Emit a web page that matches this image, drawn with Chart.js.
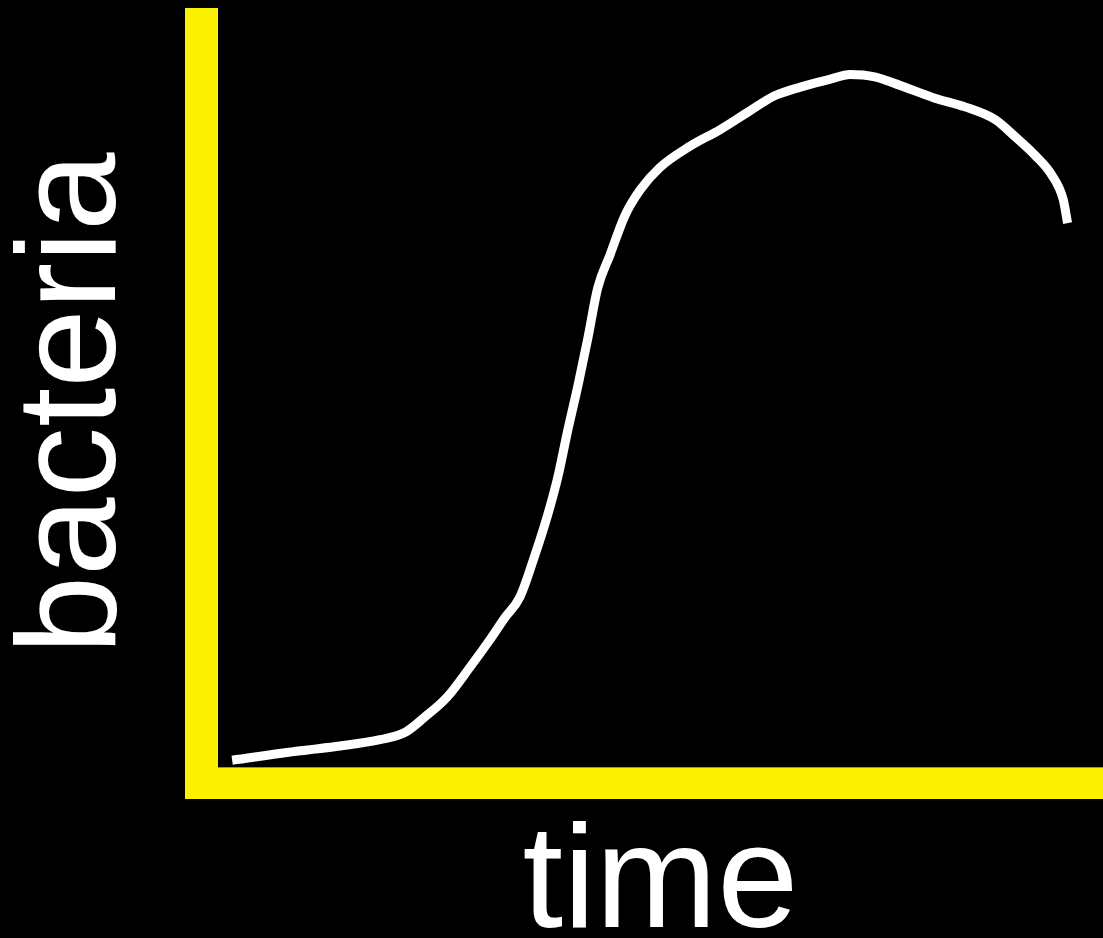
<!DOCTYPE html>
<html lang="en">

<head>
  <meta charset="UTF-8">
  <meta name="viewport" content="width=device-width, initial-scale=1.0">
  <script src="https://cdn.jsdelivr.net/npm/chart.js@4"></script>
  <title>Bacteria growth</title>
  <style>
    html, body { margin: 0; padding: 0; background: #000; }
    .container { width: 1103px; height: 938px; }
  </style>
</head>

<body>
  <div class="container">
    <canvas id="growthChart"></canvas>
  </div>

  <script>
    // values (x: time, y: bacteria, arbitrary units)
    var timeValues = [1.6, 9.3, 13.8, 18.3, 21.1, 23.4, 25.9, 28.5, 30.7, 32.4, 34.1, 35.8, 37.3, 38.4,
      39.5, 40.7, 41.8, 42.9, 44.3, 46.0, 47.7, 49.9, 53.3, 56.7, 60.1, 62.9, 65.8, 69.2, 71.4,
      74.2, 77.1, 81.0, 84.4, 87.8, 90.1, 92.3, 94.2, 95.5, 96.0];
    var bacteriaValues = [0.9, 2.1, 2.7, 3.5, 4.4, 6.4, 8.9, 12.7, 16.1, 18.9, 21.5, 26.8, 32.1, 36.7,
      42.5, 48.4, 54.3, 60.6, 64.8, 69.8, 73.0, 75.8, 78.5, 80.6, 83.0, 84.9, 86.0, 87.0, 87.6,
      87.3, 86.2, 84.6, 83.5, 81.9, 79.7, 77.4, 74.9, 71.8, 68.8];
    var xTitle = 'time';
    var yTitle = 'bacteria';

    var axisColor = '#FCF200';
    var titleFont = '"Liberation Sans", Arial, sans-serif';

    // thick yellow axes, drawn from the scales
    var yellowAxes = {
      id: 'yellowAxes',
      beforeDatasetsDraw(chart) {
        const ctx = chart.ctx;
        const area = chart.chartArea;
        const y0 = chart.scales.y.getPixelForValue(0);
        const yMin = chart.scales.y.getPixelForValue(chart.scales.y.min);
        ctx.save();
        ctx.fillStyle = axisColor;
        ctx.fillRect(area.left - 33, area.top, 33, yMin - area.top);
        ctx.fillRect(area.left - 33, y0, area.right - area.left + 33, yMin - y0);
        ctx.restore();
      }
    };

    function drawChart() {
      const ctx = document.getElementById('growthChart').getContext('2d');
      const points = timeValues.map((t, i) => ({ x: t, y: bacteriaValues[i] }));
      new Chart(ctx, {
        type: 'line',
        data: {
          datasets: [{
            data: points,
            borderColor: '#FFFFFF',
            borderWidth: 9,
            pointRadius: 0,
            cubicInterpolationMode: 'monotone',
            fill: false
          }]
        },
        options: {
          responsive: true,
          maintainAspectRatio: false,
          animation: false,
          layout: { padding: { top: 8, left: 0, right: 0, bottom: 0 } },
          plugins: { legend: { display: false }, tooltip: { enabled: false } },
          scales: {
            x: {
              type: 'linear',
              min: 0,
              max: 100,
              grid: { display: false, drawTicks: false },
              border: { display: false },
              ticks: { display: false },
              title: {
                display: true,
                text: xTitle,
                color: '#FFFFFF',
                font: { family: titleFont, size: 146, lineHeight: '96px' },
                padding: { top: 40, bottom: 3 }
              }
            },
            y: {
              min: -4,
              max: 96,
              grid: { display: false, drawTicks: false },
              border: { display: false },
              ticks: { display: false },
              title: {
                display: true,
                text: yTitle,
                color: '#FFFFFF',
                font: { family: titleFont, size: 141, lineHeight: '140px' },
                padding: { top: 6, bottom: 72 }
              }
            }
          }
        },
        plugins: [yellowAxes]
      });
    }

    drawChart();
  </script>
</body>

</html>
